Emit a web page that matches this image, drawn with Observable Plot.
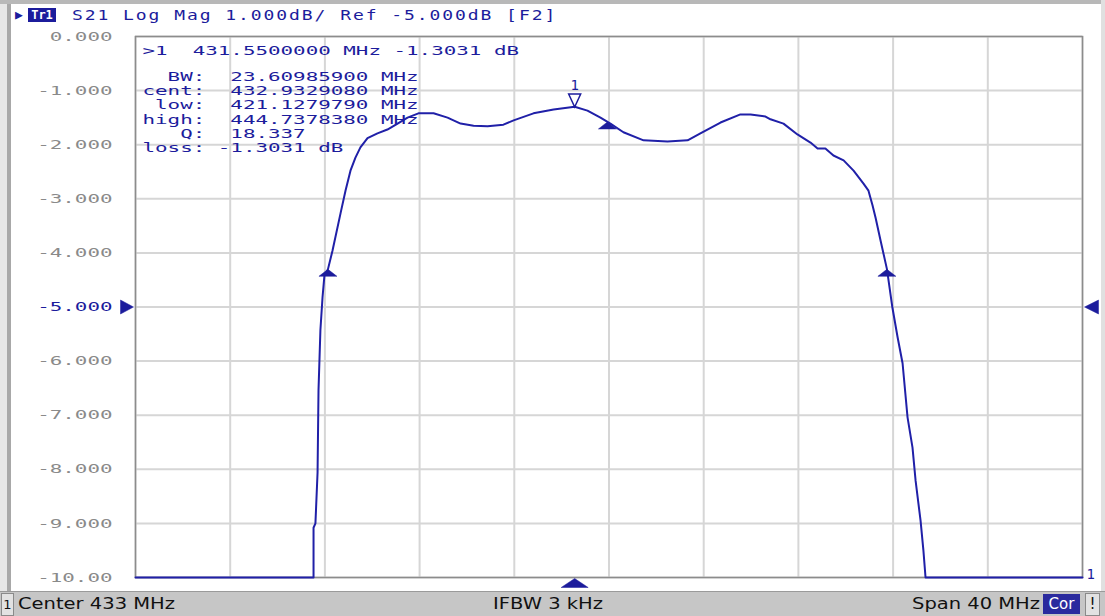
<!DOCTYPE html>
<html><head><meta charset="utf-8">
<script src="https://cdn.jsdelivr.net/npm/d3@7"></script>
<script src="https://cdn.jsdelivr.net/npm/@observablehq/plot@0.6"></script>
<style>
html,body{margin:0;padding:0;background:#fff;}
#wrap{position:relative;width:1105px;height:616px;overflow:hidden;background:#fff;font-family:"DejaVu Sans Mono",monospace;}
#hdr{position:absolute;left:0;top:0;width:1105px;height:28px;}
#hdr .tri{position:absolute;left:15px;top:7px;font-size:13px;color:#1c1c9c;line-height:15px;}
#hdr .tr{position:absolute;left:28px;top:8px;width:28px;height:14px;background:#1c1c9c;color:#fff;font-size:12px;font-weight:bold;line-height:14px;text-align:center;}
#hdr .txt{position:absolute;left:72px;top:8px;font-size:14px;line-height:15px;letter-spacing:1.5px;color:#1c1c9c;white-space:pre;transform:scaleX(1.286);transform-origin:left center;}
#chart{position:absolute;left:0;top:28px;}
#chart text{white-space:pre;}
#status{position:absolute;left:0;top:591px;width:1105px;height:25px;background:#c6c6c6;border-top:1px solid #9a9a9a;font-family:"DejaVu Sans",sans-serif;font-size:15px;color:#111;}
#status span{position:absolute;top:4px;line-height:17px;white-space:pre;transform-origin:left center;}
#status .s{transform:scaleX(1.3);}
#status .box1{left:1px;top:1px;width:11px;height:21px;background:#e2e2e2;border:1px solid #8a8a8a;text-align:center;line-height:21px;font-size:13px;}
#status .cor{left:1043px;top:2px;width:37px;height:20px;background:#2a2a9e;color:#fff;text-align:center;line-height:20px;}
#status .ex{left:1085px;top:1px;width:13px;height:21px;background:#e2e2e2;border:1px solid #8a8a8a;text-align:center;line-height:21px;}
.edgeL{position:absolute;left:0;top:0;width:11px;height:591px;background:linear-gradient(90deg,#e6e6e6 0,#e6e6e6 7px,#a8a8a8 7px,#a8a8a8 11px);}
.edgeT{position:absolute;left:0;top:0;width:1105px;height:4px;background:#b8b8b8;}
.edgeR{position:absolute;left:1101px;top:0;width:4px;height:591px;background:#e0e0e0;}
</style></head>
<body>
<div id="wrap">
  <div id="hdr">
    <span class="tri">▶</span><span class="tr">Tr1</span><span class="txt">S21 Log Mag 1.000dB/ Ref -5.000dB [F2]</span>
  </div>
  <div id="chart"></div>
  <div class="edgeL"></div><div class="edgeT"></div><div class="edgeR"></div>
  <div id="status">
    <span class="box1">1</span>
    <span class="s" style="left:18px">Center 433 MHz</span>
    <span class="s" style="left:493px">IFBW 3 kHz</span>
    <span class="s" style="left:912px">Span 40 MHz</span>
    <span class="cor">Cor</span>
    <span class="ex">!</span>
  </div>
</div>
<script>
// ---- data ----
const freqMHz = [413.0,420.52,420.52,420.60,420.69,420.73,420.81,420.90,420.98,421.13,421.32,421.66,421.87,422.08,422.29,422.50,422.80,423.22,423.64,424.07,424.49,424.95,425.59,426.18,426.73,427.28,427.87,428.54,428.97,429.81,430.66,431.55,432.09,432.64,433.06,433.61,434.46,435.47,436.32,436.86,437.71,438.55,438.98,439.61,439.82,440.37,440.96,441.51,441.81,442.14,442.48,442.91,443.33,443.75,443.96,444.13,444.26,444.47,444.74,444.97,445.19,445.40,445.61,445.82,445.95,446.16,446.28,446.37,453.0];
const s21dB = [-10,-10,-9.08,-9.00,-8.06,-6.54,-5.43,-4.82,-4.42,-4.30,-3.96,-3.27,-2.85,-2.48,-2.24,-2.05,-1.88,-1.79,-1.72,-1.61,-1.50,-1.42,-1.42,-1.50,-1.61,-1.65,-1.66,-1.63,-1.55,-1.42,-1.35,-1.30,-1.37,-1.50,-1.61,-1.77,-1.92,-1.94,-1.92,-1.79,-1.59,-1.44,-1.44,-1.48,-1.53,-1.61,-1.81,-1.96,-2.07,-2.07,-2.20,-2.29,-2.48,-2.72,-2.85,-3.12,-3.35,-3.77,-4.30,-5.01,-5.56,-6.04,-7.04,-7.60,-8.21,-8.95,-9.50,-10,-10];
const yTicks = [0,-1,-2,-3,-4,-5,-6,-7,-8,-9,-10];
const yTickLabels = ["0.000","-1.000","-2.000","-3.000","-4.000","-5.000","-6.000","-7.000","-8.000","-9.000","-10.00"];
const xGrid = [413,417,421,425,429,433,437,441,445,449,453];
const refLevel = -5;
const startMHz = 413, stopMHz = 453;
const marker1Freq = 431.55, marker1dB = -1.3031;
const bwMarkerFreq = [421.1279790, 432.9329080, 444.7378380];
const bwMarkerdB = [-4.3031, -1.58, -4.3031];
const readoutTitle = ">1  431.5500000 MHz -1.3031 dB";
const readoutLabels = ["BW:", "cent:", "low:", "high:", "Q:", "loss:"];
const readoutValues = ["23.60985900 MHz", "432.9329080 MHz", "421.1279790 MHz", "444.7378380 MHz", "18.337", "-1.3031 dB"];
const traceLabel = "1";

// ---- build ----
const trace = freqMHz.map((f, i) => ({f, db: s21dB[i]}));
const bwMarkers = bwMarkerFreq.map((f, i) => ({f, db: bwMarkerdB[i]}));
const readoutLines = readoutLabels.map((l, i) => l.padStart(5) + (readoutValues[i].startsWith("-") ? " " : "  ") + readoutValues[i]);

const blue = "#1c1c9c", traceBlue = "#2020a8";
const charW = 12.55;
const sym = (pts) => ({draw(ctx) { ctx.moveTo(pts[0][0], pts[0][1]); for (const p of pts.slice(1)) ctx.lineTo(p[0], p[1]); ctx.closePath(); }});
const flatUp = sym([[0,0],[9,7],[-9,7]]);
const stimUp = sym([[0,1],[13.5,10],[-13.5,10]]);
const refRight = sym([[-2,0],[-15,-7],[-15,7]]);
const refLeft = sym([[2,0],[16,-7],[16,7]]);
const markerDown = sym([[-6,-13],[6,-13],[0,0]]);

const fmt = d => yTickLabels[yTicks.indexOf(d)];
const chart = Plot.plot({
  width: 1105, height: 563,
  marginLeft: 135, marginRight: 23, marginTop: 8, marginBottom: 14,
  style: {fontFamily: "DejaVu Sans Mono", fontSize: "13px", background: "transparent", overflow: "visible"},
  x: {domain: [startMHz, stopMHz], axis: null},
  y: {domain: [-10, 0], axis: null},
  marks: [
    Plot.gridX(xGrid, {stroke: "#d6d6d6", strokeOpacity: 1, strokeWidth: 2}),
    Plot.gridY(yTicks, {stroke: "#d6d6d6", strokeOpacity: 1, strokeWidth: 2}),
    Plot.frame({stroke: "#8c8c8c", strokeWidth: 1.5}),
    Plot.axisY(yTicks.filter(d => d !== refLevel), {label: null, tickSize: 0, tickPadding: 23, tickFormat: fmt, color: "#8a8a8a", fill: "#8a8a8a", fontSize: 13}),
    Plot.axisY([refLevel], {label: null, tickSize: 0, tickPadding: 23, tickFormat: fmt, color: blue, fill: blue, fontSize: 13}),
    Plot.text([readoutTitle], {frameAnchor: "top-left", dx: 7, dy: 9, fill: blue, fontSize: 13}),
    ...readoutLines.map((line, i) => Plot.text([line], {frameAnchor: "top-left", dx: 7, dy: 36 + i * 14.2, fill: blue, fontSize: 12})),
    Plot.line(trace, {x: "f", y: "db", stroke: traceBlue, strokeWidth: 2}),
    Plot.dot(bwMarkers, {x: "f", y: "db", symbol: flatUp, fill: blue, stroke: blue, strokeWidth: 0.5}),
    Plot.dot([marker1Freq], {x: d => d, y: [marker1dB], symbol: markerDown, fill: "white", stroke: blue, strokeWidth: 1.5}),
    Plot.text([traceLabel], {x: [marker1Freq], y: [marker1dB], dy: -21, fill: blue, fontSize: 14}),
    Plot.dot([marker1Freq], {x: d => d, y: [-10], symbol: stimUp, fill: blue, stroke: blue, strokeWidth: 0.5}),
    Plot.dot([refLevel], {x: [startMHz], y: d => d, symbol: refRight, fill: blue, stroke: blue, strokeWidth: 0.5}),
    Plot.dot([refLevel], {x: [stopMHz], y: d => d, symbol: refLeft, fill: blue, stroke: blue, strokeWidth: 0.5}),
    Plot.text([traceLabel], {x: [stopMHz], y: [-10], dx: 4, dy: -3, textAnchor: "start", fill: blue, fontSize: 14})
  ]
});
// stretch the instrument's wide fixed-pitch glyphs
chart.querySelectorAll("text").forEach(t => {
  const n = t.textContent.length;
  if (n > 1) { t.setAttribute("textLength", n * charW); t.setAttribute("lengthAdjust", "spacingAndGlyphs"); }
});
document.getElementById("chart").appendChild(chart);
</script>
</body></html>
